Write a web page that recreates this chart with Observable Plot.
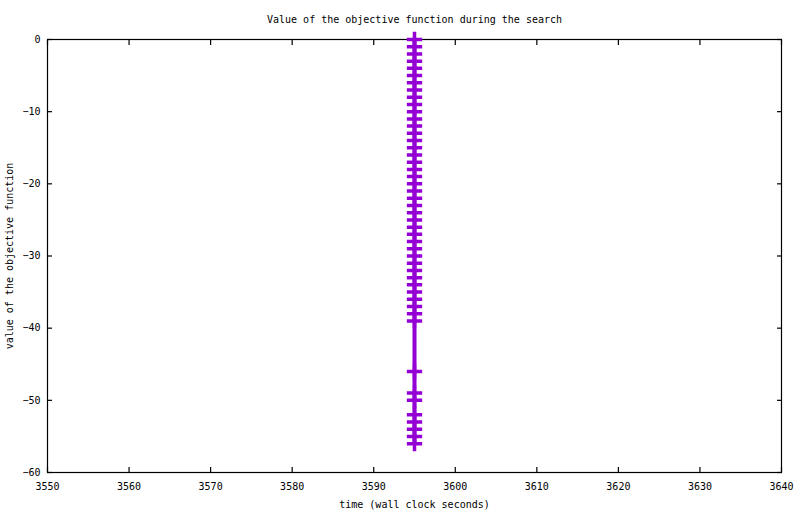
<!DOCTYPE html>
<html>
<head>
<meta charset="utf-8">
<script src="https://cdn.jsdelivr.net/npm/d3@7"></script>
<script src="https://cdn.jsdelivr.net/npm/@observablehq/plot@0.6"></script>
<style>
  html, body { margin: 0; padding: 0; background: #fff; }
</style>
</head>
<body>
<div id="chart"></div>
<script>
const title = "Value of the objective function during the search";
const xLabel = "time (wall clock seconds)";
const yLabel = "value of the objective function";
const times = [
  3595,3595,3595,3595,3595,3595,3595,3595,3595,3595,
  3595,3595,3595,3595,3595,3595,3595,3595,3595,3595,
  3595,3595,3595,3595,3595,3595,3595,3595,3595,3595,
  3595,3595,3595,3595,3595,3595,3595,3595,3595,3595,
  3595,3595,3595,3595,3595,3595,3595,3595
];
const values = [
  0,-1,-2,-3,-4,-5,-6,-7,-8,-9,
  -10,-11,-12,-13,-14,-15,-16,-17,-18,-19,
  -20,-21,-22,-23,-24,-25,-26,-27,-28,-29,
  -30,-31,-32,-33,-34,-35,-36,-37,-38,-39,
  -46,-49,-50,-52,-53,-54,-55,-56
];
const xTicks = [3550,3560,3570,3580,3590,3600,3610,3620,3630,3640];
const yTicks = [0,-10,-20,-30,-40,-50,-60];

const data = times.map((t, i) => ({time: t, value: values[i]}));
const color = "#9400d3";
const fmt = d3.format("d");
const minus = (d) => fmt(d).replace("-", "\u2212");

const chart = Plot.plot({
  width: 800,
  height: 514,
  marginLeft: 47,
  marginRight: 19,
  marginTop: 39,
  marginBottom: 42,
  style: {fontFamily: "'DejaVu Sans Mono', monospace", fontSize: "10px", color: "#000", background: "#fff"},
  x: {domain: [3550, 3640]},
  y: {domain: [-60, 0]},
  marks: [
    Plot.frame({stroke: "#000", strokeWidth: 1.2}),
    Plot.axisX(xTicks, {anchor: "bottom", tickSize: -5, tickPadding: 15, tickFormat: fmt, label: xLabel, labelAnchor: "center", labelArrow: "none", labelOffset: 35, strokeWidth: 1.2}),
    Plot.axisX(xTicks, {anchor: "top", tickSize: -5, tickFormat: () => "", label: null, strokeWidth: 1.2}),
    Plot.axisY(yTicks, {anchor: "left", tickSize: -5, tickPadding: 12, tickFormat: minus, label: yLabel, labelAnchor: "center", labelArrow: "none", labelOffset: 42, strokeWidth: 1.2}),
    Plot.axisY(yTicks, {anchor: "right", tickSize: -5, tickFormat: () => "", label: null, strokeWidth: 1.2}),
    Plot.line(data, {x: "time", y: "value", stroke: color, strokeWidth: 4}),
    Plot.dot(data, {x: "time", y: "value", symbol: "plus", r: 5, stroke: color, strokeWidth: 3.5}),
    Plot.text([title], {frameAnchor: "top", dy: -24, fontSize: 10})
  ]
});
document.getElementById("chart").appendChild(chart);
</script>
</body>
</html>
